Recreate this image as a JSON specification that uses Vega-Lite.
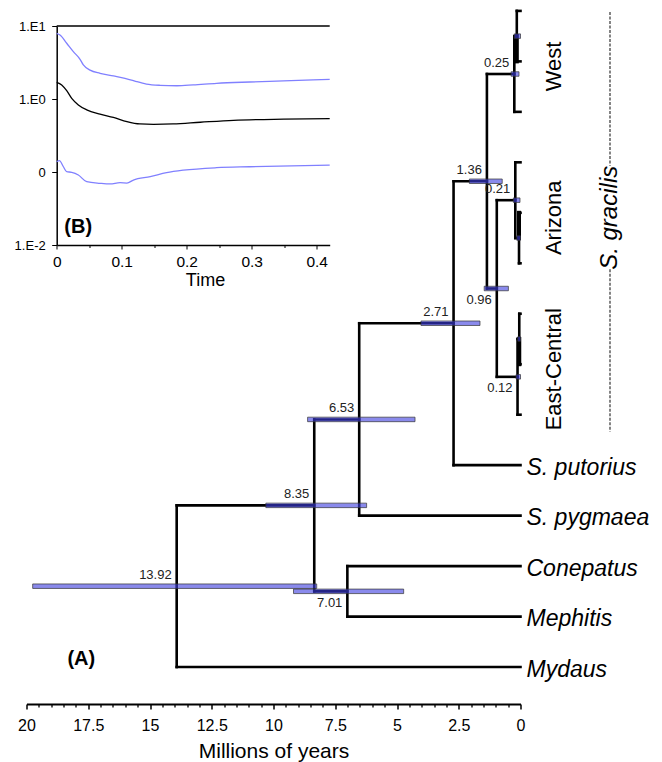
{
  "$schema": "https://vega.github.io/schema/vega-lite/v6.json",
  "width": 494,
  "height": 704,
  "autosize": {"type": "none"},
  "padding": {"left": 26.5, "top": 0, "right": 141.5, "bottom": 58},
  "background": "white",
  "config": {"view": {"stroke": null}, "font": "Liberation Sans", "text": {"font": "Liberation Sans"}},
  "datasets": {
    "branches": [
      {"a1": 13.92, "a2": 8.35, "r1": 9.797, "r2": 9.797, "k": "branch"},
      {"a1": 13.92, "a2": 0, "r1": 13, "r2": 13, "k": "branch"},
      {"a1": 8.35, "a2": 6.53, "r1": 8.094, "r2": 8.094, "k": "branch"},
      {"a1": 8.35, "a2": 7.01, "r1": 11.5, "r2": 11.5, "k": "branch"},
      {"a1": 7.01, "a2": 0, "r1": 11, "r2": 11, "k": "branch"},
      {"a1": 7.01, "a2": 0, "r1": 12, "r2": 12, "k": "branch"},
      {"a1": 6.53, "a2": 2.71, "r1": 6.188, "r2": 6.188, "k": "branch"},
      {"a1": 6.53, "a2": 0, "r1": 10, "r2": 10, "k": "branch"},
      {"a1": 2.71, "a2": 1.36, "r1": 3.375, "r2": 3.375, "k": "branch"},
      {"a1": 2.71, "a2": 0, "r1": 9, "r2": 9, "k": "branch"},
      {"a1": 1.36, "a2": 0.25, "r1": 1.25, "r2": 1.25, "k": "branch"},
      {"a1": 1.36, "a2": 0.96, "r1": 5.5, "r2": 5.5, "k": "branch"},
      {"a1": 0.96, "a2": 0.21, "r1": 3.75, "r2": 3.75, "k": "branch"},
      {"a1": 0.96, "a2": 0.12, "r1": 7.25, "r2": 7.25, "k": "branch"},
      {"a1": 0.25, "a2": 0.15, "r1": 0.5, "r2": 0.5, "k": "branch"},
      {"a1": 0.25, "a2": 0, "r1": 2, "r2": 2, "k": "branch"},
      {"a1": 0.15, "a2": 0, "r1": 0, "r2": 0, "k": "branch"},
      {"a1": 0.15, "a2": 0, "r1": 1, "r2": 1, "k": "branch"},
      {"a1": 0.21, "a2": 0, "r1": 3, "r2": 3, "k": "branch"},
      {"a1": 0.21, "a2": 0.06, "r1": 4.5, "r2": 4.5, "k": "branch"},
      {"a1": 0.06, "a2": 0, "r1": 4, "r2": 4, "k": "branch"},
      {"a1": 0.06, "a2": 0, "r1": 5, "r2": 5, "k": "branch"},
      {"a1": 0.12, "a2": 0.05, "r1": 6.5, "r2": 6.5, "k": "branch"},
      {"a1": 0.12, "a2": 0, "r1": 8, "r2": 8, "k": "branch"},
      {"a1": 0.05, "a2": 0, "r1": 6, "r2": 6, "k": "branch"},
      {"a1": 0.05, "a2": 0, "r1": 7, "r2": 7, "k": "branch"},
      {"a1": 13.92, "a2": 13.92, "r1": 9.797, "r2": 13, "k": "branch"},
      {"a1": 8.35, "a2": 8.35, "r1": 8.094, "r2": 11.5, "k": "branch"},
      {"a1": 7.01, "a2": 7.01, "r1": 11, "r2": 12, "k": "branch"},
      {"a1": 6.53, "a2": 6.53, "r1": 6.188, "r2": 10, "k": "branch"},
      {"a1": 2.71, "a2": 2.71, "r1": 3.375, "r2": 9, "k": "branch"},
      {"a1": 1.36, "a2": 1.36, "r1": 1.25, "r2": 5.5, "k": "branch"},
      {"a1": 0.96, "a2": 0.96, "r1": 3.75, "r2": 7.25, "k": "branch"},
      {"a1": 0.25, "a2": 0.25, "r1": 0.5, "r2": 2, "k": "branch"},
      {"a1": 0.15, "a2": 0.15, "r1": 0, "r2": 1, "k": "branch"},
      {"a1": 0.21, "a2": 0.21, "r1": 3, "r2": 4.5, "k": "branch"},
      {"a1": 0.06, "a2": 0.06, "r1": 4, "r2": 5, "k": "branch"},
      {"a1": 0.12, "a2": 0.12, "r1": 6.5, "r2": 8, "k": "branch"},
      {"a1": 0.05, "a2": 0.05, "r1": 6, "r2": 7, "k": "branch"},
      {"a1": 0.15, "a2": 0.15, "r1": 0.5, "r2": 1, "k": "collapsed"},
      {"a1": 0.06, "a2": 0.06, "r1": 4, "r2": 4.5, "k": "collapsed"},
      {"a1": 0.05, "a2": 0.05, "r1": 6.5, "r2": 7, "k": "collapsed"}
    ],
    "nodes": [
      {"age": 13.92, "r": 11.398, "lo": 8.25, "hi": 19.75, "lab": "13.92", "side": "above"},
      {"age": 8.35, "r": 9.797, "lo": 6.23, "hi": 10.31, "lab": "8.35", "side": "above"},
      {"age": 7.01, "r": 11.5, "lo": 4.73, "hi": 9.19, "lab": "7.01", "side": "below"},
      {"age": 6.53, "r": 8.094, "lo": 4.27, "hi": 8.62, "lab": "6.53", "side": "above"},
      {"age": 2.71, "r": 6.188, "lo": 1.64, "hi": 4.03, "lab": "2.71", "side": "above"},
      {"age": 1.36, "r": 3.375, "lo": 0.74, "hi": 2.07, "lab": "1.36", "side": "above"},
      {"age": 0.96, "r": 5.5, "lo": 0.49, "hi": 1.47, "lab": "0.96", "side": "below"},
      {"age": 0.25, "r": 1.25, "lo": 0.06, "hi": 0.38, "lab": "0.25", "side": "above"},
      {"age": 0.21, "r": 3.75, "lo": 0.02, "hi": 0.29, "lab": "0.21", "side": "above"},
      {"age": 0.12, "r": 7.25, "lo": 0, "hi": 0.18, "lab": "0.12", "side": "below"},
      {"age": 0.15, "r": 0.5, "lo": 0, "hi": 0.25, "lab": "", "side": "none"},
      {"age": 0.06, "r": 4.5, "lo": 0, "hi": 0.15, "lab": "", "side": "none"},
      {"age": 0.05, "r": 6.5, "lo": 0, "hi": 0.11, "lab": "", "side": "none"}
    ],
    "tips": [
      {"name": "S. putorius", "r": 9},
      {"name": "S. pygmaea", "r": 10},
      {"name": "Conepatus", "r": 11},
      {"name": "Mephitis", "r": 12},
      {"name": "Mydaus", "r": 13}
    ],
    "clades": [
      {"clade": "West", "r": 1},
      {"clade": "Arizona", "r": 4},
      {"clade": "East-Central", "r": 7}
    ],
    "species": [{"name": "S. gracilis", "r": 4}],
    "speciesbar": [
      {"r1": 0.02, "r2": 3.07},
      {"r1": 5.12, "r2": 8.34}
    ],
    "panelA": [{"lab": "(A)", "a": 17.78, "r": 12.84}],
    "panelB": [{"lab": "(B)", "t": 0.033, "v": 0.0174}],
    "frame": [{"t0": 0, "t1": 0.42, "v": 10}],
    "curves": [
      {"s": "upper", "t": 0, "v": 7.94},
      {"s": "upper", "t": 0.0051, "v": 7.53},
      {"s": "upper", "t": 0.0154, "v": 5.8},
      {"s": "upper", "t": 0.0256, "v": 4.45},
      {"s": "upper", "t": 0.0359, "v": 3.5},
      {"s": "upper", "t": 0.041, "v": 2.93},
      {"s": "upper", "t": 0.0513, "v": 2.49},
      {"s": "upper", "t": 0.0667, "v": 2.25},
      {"s": "upper", "t": 0.0872, "v": 2.07},
      {"s": "upper", "t": 0.105, "v": 1.92},
      {"s": "upper", "t": 0.115, "v": 1.82},
      {"s": "upper", "t": 0.123, "v": 1.73},
      {"s": "upper", "t": 0.138, "v": 1.6},
      {"s": "upper", "t": 0.159, "v": 1.54},
      {"s": "upper", "t": 0.185, "v": 1.52},
      {"s": "upper", "t": 0.21, "v": 1.56},
      {"s": "upper", "t": 0.246, "v": 1.64},
      {"s": "upper", "t": 0.297, "v": 1.71},
      {"s": "upper", "t": 0.349, "v": 1.77},
      {"s": "upper", "t": 0.42, "v": 1.86},
      {"s": "median", "t": 0, "v": 1.69},
      {"s": "median", "t": 0.0077, "v": 1.56},
      {"s": "median", "t": 0.0154, "v": 1.3},
      {"s": "median", "t": 0.0231, "v": 1.02},
      {"s": "median", "t": 0.0333, "v": 0.83},
      {"s": "median", "t": 0.0462, "v": 0.71},
      {"s": "median", "t": 0.0667, "v": 0.62},
      {"s": "median", "t": 0.0872, "v": 0.56},
      {"s": "median", "t": 0.108, "v": 0.49},
      {"s": "median", "t": 0.128, "v": 0.455},
      {"s": "median", "t": 0.149, "v": 0.45},
      {"s": "median", "t": 0.179, "v": 0.455},
      {"s": "median", "t": 0.221, "v": 0.48},
      {"s": "median", "t": 0.272, "v": 0.51},
      {"s": "median", "t": 0.349, "v": 0.53},
      {"s": "median", "t": 0.42, "v": 0.54},
      {"s": "lower", "t": 0, "v": 0.138},
      {"s": "lower", "t": 0.0041, "v": 0.143},
      {"s": "lower", "t": 0.0103, "v": 0.118},
      {"s": "lower", "t": 0.0154, "v": 0.101},
      {"s": "lower", "t": 0.0231, "v": 0.099},
      {"s": "lower", "t": 0.0333, "v": 0.091},
      {"s": "lower", "t": 0.0462, "v": 0.0736},
      {"s": "lower", "t": 0.0667, "v": 0.07},
      {"s": "lower", "t": 0.0821, "v": 0.0686},
      {"s": "lower", "t": 0.0974, "v": 0.0713},
      {"s": "lower", "t": 0.108, "v": 0.0706},
      {"s": "lower", "t": 0.118, "v": 0.0776},
      {"s": "lower", "t": 0.144, "v": 0.0863},
      {"s": "lower", "t": 0.169, "v": 0.098},
      {"s": "lower", "t": 0.195, "v": 0.106},
      {"s": "lower", "t": 0.246, "v": 0.1145},
      {"s": "lower", "t": 0.297, "v": 0.118},
      {"s": "lower", "t": 0.42, "v": 0.124}
    ]
  },
  "layer": [
    {
      "resolve": {"axis": {"x": "independent", "y": "independent"}},
      "layer": [
        {
          "data": {"name": "branches"},
          "mark": {"type": "rule", "strokeCap": "square", "color": "black"},
          "encoding": {
            "x": {
              "field": "a1", "type": "quantitative",
              "scale": {"domain": [20, 0], "nice": false, "zero": false},
              "axis": {
                "orient": "bottom",
                "title": "Millions of years",
                "values": [0, 2.5, 5, 7.5, 10, 12.5, 15, 17.5, 20],
                "format": ".1~f",
                "tickSize": 5,
                "tickWidth": 1.5,
                "tickColor": "black",
                "domainColor": "black",
                "domainWidth": 2,
                "grid": false,
                "labelColor": "black",
                "labelFont": "Liberation Sans",
                "labelFontSize": 16,
                "labelPadding": 8,
                "labelFlush": false,
                "labelOverlap": false,
                "titleColor": "black",
                "titleFont": "Liberation Sans",
                "titleFontSize": 21,
                "titleFontWeight": "normal",
                "titlePadding": 7
              }
            },
            "x2": {"field": "a2"},
            "y": {"field": "r1", "type": "quantitative", "scale": {"domain": [-0.1172, 13.633], "reverse": true, "nice": false, "zero": false}, "axis": null},
            "y2": {"field": "r2"},
            "strokeWidth": {"field": "k", "type": "nominal", "scale": {"domain": ["branch", "collapsed"], "range": [2.6, 4]}, "legend": null}
          }
        },
        {
          "data": {"name": "nodes"},
          "mark": {"type": "bar", "height": 4.5, "fill": "#3c3ce0", "fillOpacity": 0.6, "stroke": "#333333", "strokeWidth": 0.7},
          "encoding": {
            "x": {
              "field": "hi", "type": "quantitative",
              "scale": {"domain": [20, 0], "nice": false, "zero": false},
              "axis": {
                "orient": "bottom",
                "title": null,
                "values": [0.5, 1, 1.5, 2, 3, 3.5, 4, 4.5, 5.5, 6, 6.5, 7, 8, 8.5, 9, 9.5, 10.5, 11, 11.5, 12, 13, 13.5, 14, 14.5, 15.5, 16, 16.5, 17, 18, 18.5, 19, 19.5],
                "labels": false,
                "domain": false,
                "grid": false,
                "tickSize": 3,
                "tickWidth": 1.3,
                "tickColor": "black"
              }
            },
            "x2": {"field": "lo"},
            "y": {"field": "r", "type": "quantitative", "scale": {"domain": [-0.1172, 13.633], "reverse": true, "nice": false, "zero": false}, "axis": null}
          }
        },
        {
          "data": {"name": "nodes"},
          "transform": [{"filter": "datum.side === 'above'"}],
          "mark": {"type": "text", "align": "right", "baseline": "middle", "dx": -5, "dy": -11, "fontSize": 13, "color": "#222222"},
          "encoding": {
            "x": {"field": "age", "type": "quantitative", "scale": {"domain": [20, 0], "nice": false, "zero": false}, "axis": null},
            "y": {"field": "r", "type": "quantitative", "scale": {"domain": [-0.1172, 13.633], "reverse": true, "nice": false, "zero": false}, "axis": null},
            "text": {"field": "lab"}
          }
        },
        {
          "data": {"name": "nodes"},
          "transform": [{"filter": "datum.side === 'below'"}],
          "mark": {"type": "text", "align": "right", "baseline": "middle", "dx": -5, "dy": 11.5, "fontSize": 13, "color": "#222222"},
          "encoding": {
            "x": {"field": "age", "type": "quantitative", "scale": {"domain": [20, 0], "nice": false, "zero": false}, "axis": null},
            "y": {"field": "r", "type": "quantitative", "scale": {"domain": [-0.1172, 13.633], "reverse": true, "nice": false, "zero": false}, "axis": null},
            "text": {"field": "lab"}
          }
        },
        {
          "data": {"name": "tips"},
          "mark": {"type": "text", "align": "left", "baseline": "alphabetic", "dx": 6, "dy": 9.5, "fontSize": 23, "fontStyle": "italic", "color": "black"},
          "encoding": {
            "x": {"datum": 0, "type": "quantitative", "scale": {"domain": [20, 0], "nice": false, "zero": false}, "axis": null},
            "y": {"field": "r", "type": "quantitative", "scale": {"domain": [-0.1172, 13.633], "reverse": true, "nice": false, "zero": false}, "axis": null},
            "text": {"field": "name"}
          }
        },
        {
          "data": {"name": "clades"},
          "mark": {"type": "text", "align": "center", "baseline": "alphabetic", "angle": 270, "dx": -5, "dy": 40.5, "fontSize": 22, "color": "black"},
          "encoding": {
            "x": {"datum": 0, "type": "quantitative", "scale": {"domain": [20, 0], "nice": false, "zero": false}, "axis": null},
            "y": {"field": "r", "type": "quantitative", "scale": {"domain": [-0.1172, 13.633], "reverse": true, "nice": false, "zero": false}, "axis": null},
            "text": {"field": "clade"}
          }
        },
        {
          "data": {"name": "species"},
          "mark": {"type": "text", "align": "center", "baseline": "alphabetic", "angle": 270, "dx": -5, "dy": 96, "fontSize": 24, "fontStyle": "italic", "color": "black"},
          "encoding": {
            "x": {"datum": 0, "type": "quantitative", "scale": {"domain": [20, 0], "nice": false, "zero": false}, "axis": null},
            "y": {"field": "r", "type": "quantitative", "scale": {"domain": [-0.1172, 13.633], "reverse": true, "nice": false, "zero": false}, "axis": null},
            "text": {"field": "name"}
          }
        },
        {
          "data": {"name": "speciesbar"},
          "mark": {"type": "rule", "xOffset": 89.5, "strokeDash": [3, 1.5], "strokeWidth": 1.2, "color": "#333333"},
          "encoding": {
            "x": {"datum": 0, "type": "quantitative", "scale": {"domain": [20, 0], "nice": false, "zero": false}, "axis": null},
            "y": {"field": "r1", "type": "quantitative", "scale": {"domain": [-0.1172, 13.633], "reverse": true, "nice": false, "zero": false}, "axis": null},
            "y2": {"field": "r2"}
          }
        },
        {
          "data": {"name": "panelA"},
          "mark": {"type": "text", "align": "center", "baseline": "middle", "fontSize": 20, "fontWeight": "bold", "color": "black"},
          "encoding": {
            "x": {"field": "a", "type": "quantitative", "scale": {"domain": [20, 0], "nice": false, "zero": false}, "axis": null},
            "y": {"field": "r", "type": "quantitative", "scale": {"domain": [-0.1172, 13.633], "reverse": true, "nice": false, "zero": false}, "axis": null},
            "text": {"field": "lab"}
          }
        }
      ]
    },
    {
      "resolve": {"axis": {"x": "independent", "y": "independent"}},
      "layer": [
        {
          "data": {"name": "curves"},
          "mark": {"type": "line", "strokeWidth": 1.3, "interpolate": "monotone"},
          "encoding": {
            "x": {
              "field": "t", "type": "quantitative",
              "scale": {"domain": [0, 0.42], "range": [30.2, 303.2], "nice": false, "zero": false},
              "axis": {
                "orient": "bottom",
                "offset": -459,
                "title": "Time",
                "titleX": 178.5,
                "values": [0, 0.1, 0.2, 0.3, 0.4],
                "format": ".1~f",
                "tickSize": 4,
                "tickColor": "black",
                "tickWidth": 1,
                "domainColor": "black",
                "domainWidth": 1.5,
                "grid": false,
                "labelColor": "black",
                "labelFont": "Liberation Sans",
                "labelFontSize": 15.5,
                "labelPadding": 5,
                "labelFlush": false,
                "labelOverlap": false,
                "titleColor": "black",
                "titleFont": "Liberation Sans",
                "titleFontSize": 18,
                "titleFontWeight": "normal",
                "titlePadding": 1.5
              }
            },
            "y": {
              "field": "v", "type": "quantitative",
              "scale": {"type": "log", "domain": [0.01, 10], "range": [245, 26], "nice": false},
              "axis": {
                "orient": "left",
                "offset": -30.2,
                "title": null,
                "values": [0.01, 0.1, 1, 10],
                "labelExpr": "datum.value >= 5 ? '1.E1' : datum.value >= 0.5 ? '1.E0' : datum.value >= 0.05 ? '0' : '1.E-2'",
                "tickSize": 5,
                "tickColor": "black",
                "tickWidth": 1,
                "domainColor": "black",
                "domainWidth": 1.5,
                "grid": false,
                "labelColor": "black",
                "labelFont": "Liberation Sans",
                "labelFontSize": 13,
                "labelPadding": 6.5,
                "labelFlush": false,
                "labelOverlap": false
              }
            },
            "color": {"field": "s", "type": "nominal", "scale": {"domain": ["upper", "median", "lower"], "range": ["#8080ff", "#000000", "#8080ff"]}, "legend": null}
          }
        },
        {
          "data": {"name": "frame"},
          "mark": {"type": "rule", "color": "black", "strokeWidth": 1.5},
          "encoding": {
            "x": {
              "field": "t0", "type": "quantitative",
              "scale": {"domain": [0, 0.42], "range": [30.2, 303.2], "nice": false, "zero": false},
              "axis": {
                "orient": "bottom",
                "offset": -459,
                "title": null,
                "values": [0.05, 0.15, 0.25, 0.35],
                "labels": false,
                "domain": false,
                "grid": false,
                "tickSize": 2.5,
                "tickWidth": 1,
                "tickColor": "black"
              }
            },
            "x2": {"field": "t1"},
            "y": {"field": "v", "type": "quantitative", "scale": {"type": "log", "domain": [0.01, 10], "range": [245, 26], "nice": false}, "axis": null}
          }
        },
        {
          "data": {"name": "panelB"},
          "mark": {"type": "text", "align": "center", "baseline": "middle", "fontSize": 20, "fontWeight": "bold", "color": "black"},
          "encoding": {
            "x": {"field": "t", "type": "quantitative", "scale": {"domain": [0, 0.42], "range": [30.2, 303.2], "nice": false, "zero": false}, "axis": null},
            "y": {"field": "v", "type": "quantitative", "scale": {"type": "log", "domain": [0.01, 10], "range": [245, 26], "nice": false}, "axis": null},
            "text": {"field": "lab"}
          }
        }
      ]
    }
  ],
  "resolve": {"scale": {"x": "independent", "y": "independent"}, "axis": {"x": "independent", "y": "independent"}}
}
